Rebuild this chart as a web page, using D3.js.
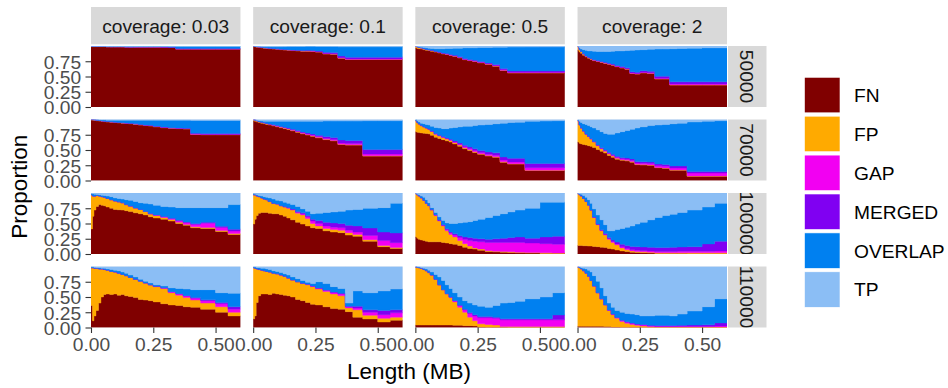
<!DOCTYPE html>
<html>
<head>
<meta charset="utf-8">
<script src="https://cdn.jsdelivr.net/npm/d3@7"></script>
<style>
  html, body { margin: 0; padding: 0; background: #ffffff; }
  svg { display: block; font-family: "Liberation Sans", Arial, Helvetica, sans-serif; }
</style>
</head>
<body>
<svg id="chart" width="948" height="388"></svg>
<script>
// Length bins (MB): edges of each histogram bar
const binEdges = [0, 0.006, 0.012, 0.02, 0.03, 0.04, 0.05, 0.06, 0.075, 0.09, 0.105, 0.12, 0.135,
  0.15, 0.17, 0.19, 0.21, 0.23, 0.25, 0.28, 0.31, 0.34, 0.37, 0.40, 0.44, 0.50, 0.55, 0.60];

const coverages = ["0.03", "0.1", "0.5", "2"];
const minLengths = ["50000", "70000", "100000", "110000"];
const categories = ["FN", "FP", "GAP", "MERGED", "OVERLAP", "TP"];
const categoryColours = ["#800000", "#FFAA00", "#F200F2", "#8000F2", "#0080F0", "#8BBEF5"];
const xTickValues = [0, 0.25, 0.5];
const yTickValues = [0, 0.25, 0.5, 0.75];

// Share of each category per length bin (percent), rows in category order FN, FP, GAP, MERGED, OVERLAP, TP
const m50000_c003 = [
  [99,99,99,99,99,99,99,98.5,98.5,98.5,98.5,98.5,98,98,98,98,98,98,98,98,97.5,95,95,95,95,95,95],
  [0.6,0.5,0.5,0.5,0.4,0.4,0.4,0.4,0.3,0.3,0.3,0.3,0.3,0.2,0.2,0.2,0.2,0.2,0.2,0.1,0.1,0.1,0.1,0.1,0.1,0.1,0.1],
  [0,0,0,0,0,0,0,0,0,0,0,0,0,0,0,0,0,0,0,0,0,0.1,0.1,0.1,0.1,0.1,0.1],
  [0,0,0,0,0,0,0,0,0,0,0,0,0,0,0.2,0.2,0.2,0.2,0.3,0.3,0.3,0.6,0.6,0.6,0.6,0.6,0.6],
  [0,0,0,0,0,0,0,0.3,0.3,0.4,0.4,0.4,0.8,0.8,0.8,0.8,0.8,0.8,0.8,0.9,1.3,3.6,3.6,3.6,3.6,3.6,3.6],
  [0.4,0.5,0.5,0.5,0.6,0.6,0.6,0.8,0.9,0.8,0.8,0.8,0.9,1,0.8,0.8,0.8,0.8,0.7,0.7,0.8,0.7,0.7,0.7,0.7,0.7,0.7]
];
const m50000_c01 = [
  [99,98.5,98,97.5,97,96.5,96,95.5,95,94.5,94,93.5,93,92.5,92,91.5,91.5,91,90,87,86.5,80,78,78,78,78,78],
  [0.8,0.8,0.8,0.8,0.8,0.7,0.7,0.7,0.7,0.6,0.6,0.6,0.6,0.5,0.5,0.5,0.5,0.5,0.4,0.3,0.3,0.2,0.2,0.2,0.2,0.2,0.2],
  [0,0,0,0,0,0,0,0,0,0,0,0.1,0.1,0.2,0.2,0.2,0.2,0.3,0.3,0.4,0.4,0.5,0.5,0.5,0.5,0.5,0.5],
  [0,0,0,0,0,0,0,0.1,0.1,0.2,0.2,0.3,0.3,0.4,0.5,0.6,0.7,0.8,1,2,2,3,3,3,3,3,3],
  [0.1,0.2,0.5,0.8,1,1.5,2,2.5,3,3.5,4,4.5,5,5.5,6,6.5,6.5,7,7.5,9.5,10,15,17,17,17,17,17],
  [0.1,0.5,0.7,0.9,1.2,1.3,1.3,1.2,1.2,1.2,1.2,1.1,1,0.9,0.8,0.7,0.6,0.4,0.8,0.8,0.8,1.3,1.3,1.3,1.3,1.3,1.3]
];
const m50000_c05 = [
  [97,96,95.5,95,94,93,92.5,91.5,90,88.5,87,86,84.5,83,80.5,77.5,76,74.5,72.5,70,67,60,56,56,56,56,56],
  [2.5,2.5,2,1.8,1.5,1.2,1,1,0.8,0.8,0.6,0.6,0.5,0.5,0.5,0.4,0.4,0.4,0.3,0.3,0.3,0.2,0.2,0.2,0.2,0.2,0.2],
  [0,0,0,0,0,0,0.1,0.1,0.2,0.2,0.3,0.3,0.3,0.3,0.4,0.4,0.4,0.5,0.5,0.5,0.6,0.8,0.8,0.8,0.8,0.8,0.8],
  [0,0,0,0,0,0.1,0.2,0.3,0.4,0.5,0.6,0.7,0.8,0.9,1,1.1,1.2,1.3,1.4,1.5,1.6,2,2.2,2.2,2.2,2.2,2.2],
  [0,0.5,1,1.2,2,2.7,2.7,3.1,4.1,5.5,7,8.4,9.9,11.8,14.1,17.6,19,20.3,22.8,25.2,28.5,35,39,39,39.2,39.3,39.3],
  [0.5,1,1.5,2,2.5,3,3.5,4,4.5,4.5,4.5,4,4,3.5,3.5,3,3,3,2.5,2.5,2,2,1.8,1.8,1.6,1.5,1.5]
];
const m50000_c2 = [
  [93,90,88,85,82,80,78,76,74.5,73,71.5,70,68.5,66,64,62,55,54,56,55,46,46,36,36,36,36,36],
  [6,4,3,2,1.5,1.2,1,0.8,0.7,0.6,0.5,0.5,0.4,0.4,0.4,0.3,0.3,0.3,0.3,0.3,0.3,0.3,0.3,0.3,0.3,0.3,0.3],
  [0,0,0,0,0,0.1,0.1,0.2,0.2,0.3,0.3,0.3,0.4,0.4,0.5,0.5,0.6,0.7,0.8,0.8,1,1,1.5,1.5,1.5,1.5,1.5],
  [0,0,0.1,0.2,0.3,0.4,0.5,0.6,0.7,0.8,0.9,1,1.1,1.2,1.4,1.5,2,2,2.5,2.5,3,3,3.5,3.5,3.5,3.5,3.5],
  [0,3,3.9,6.8,9.2,10.3,12.4,13.9,14.9,16.3,17.8,19.2,21.1,24,25.7,28.2,35.1,36.5,34.4,35.9,44.7,44.7,54.2,54.7,55.2,55.7,55.7],
  [1,3,5,6,7,8,8,8.5,9,9,9,9,8.5,8,8,7.5,7,6.5,6,5.5,5,5,4.5,4,3.5,3,3]
];

const m70000_c003 = [
  [99,99,98.5,98,97.5,97,96.5,96,95.5,95,94.5,94,93.5,93,92,91,90,89.5,88,86.5,85.5,85,84.5,75.5,75,75,75],
  [0.8,0.8,0.8,0.7,0.7,0.6,0.6,0.6,0.6,0.5,0.5,0.5,0.5,0.5,0.5,0.5,0.5,0.4,0.4,0.4,0.4,0.4,0.4,0.3,0.3,0.3,0.3],
  [0,0,0,0,0,0,0,0,0,0,0,0,0,0,0.1,0.1,0.1,0.2,0.2,0.2,0.2,0.2,0.2,0.3,0.3,0.3,0.3],
  [0,0,0,0,0,0,0,0,0.1,0.1,0.1,0.2,0.2,0.2,0.3,0.3,0.3,0.4,0.4,0.5,0.5,0.5,0.5,1.5,1.5,1.5,1.5],
  [0,0,0.2,0.7,1,1.4,1.9,2.2,2.6,3.1,3.6,4,4.5,5,5.8,6.8,7.8,8.2,9.7,11.1,12.1,12.6,13.1,20.9,21.4,21.4,21.4],
  [0.2,0.3,0.5,0.6,0.8,1,1,1.2,1.2,1.3,1.3,1.3,1.3,1.3,1.3,1.3,1.3,1.3,1.3,1.3,1.3,1.3,1.3,1.5,1.5,1.5,1.5]
];
const m70000_c01 = [
  [98,97,96,95,94,93,92,91,89.5,88,86.5,85,83.5,81.5,79,76.5,74.5,72.5,70,67,65,59,58,58,40,40,40],
  [2,2,1.8,1.5,1.4,1.3,1.2,1.1,1,1,1,0.9,0.9,0.9,0.8,0.8,0.8,0.7,0.7,0.6,0.6,0.5,0.5,0.5,0.4,0.4,0.4],
  [0,0,0,0,0,0,0.1,0.2,0.3,0.4,0.5,0.6,0.7,0.8,0.9,1,1,1.2,1.3,1.5,1.5,2,2,2,3,3,3],
  [0,0,0,0,0.1,0.2,0.3,0.4,0.5,0.6,0.7,0.8,0.9,1,1.2,1.4,1.6,1.8,2,3,3.5,5,5,5,7.5,7.5,7.5],
  [0,0,0.7,1.5,2,2.5,3.4,4.3,5.7,7,8.3,9.7,11,12.8,15.1,17.3,19.1,20.8,23,25.4,26.9,31,32,32,47.1,47.1,47.1],
  [0.5,1,1.5,2,2.5,3,3,3,3,3,3,3,3,3,3,3,3,3,3,2.5,2.5,2.5,2.5,2.5,2,2,2]
];
const m70000_c05 = [
  [80,79,78.5,78,77.5,77,76.5,74,71,69,67,65,63,60,56,52,49,46,43,40,38,30,27,27,16.5,16.5,16.5],
  [18,16,14,12,10.5,9,7.5,6.5,5,4,3.5,3,2.5,2,2,1.5,1.5,1.2,1,1,0.8,0.6,0.5,0.5,0.4,0.4,0.4],
  [0,0,0,0,0,0,0.2,0.3,0.4,0.5,0.6,0.8,1,1.2,1.5,1.8,2,2,2,2.2,2.5,3,3,3,4,4,4],
  [0,0,0,0,0,0.2,0.3,0.4,0.5,0.7,0.9,1,1.2,1.5,2,2.5,2.5,3,3,3.5,4,5,6,6,7,7,7],
  [1.5,3,3.5,4,5,5.8,6.5,7.8,10.1,11.8,13,15.2,18.3,22.3,26.5,31.2,34,37.8,42,45.3,47.7,55.4,58.5,59,69.1,69.6,70.1],
  [0.5,2,4,6,7,8,9,11,13,14,15,15,14,13,12,11,11,10,9,8,7,6,5,4.5,3,2.5,2]
];
const m70000_c2 = [
  [63,61,60,59,58,57,56,54,51,48,45,41,38,35,33,32,30,26,25.5,25,21,20,17,17,7,7,7],
  [35,30,26,22,18,15,12,9,6,4,3,2.5,2,1.5,1.2,1,1,0.8,0.6,0.5,0.5,0.4,0.4,0.3,0.3,0.3,0.3],
  [0,0,0,0,0,0.2,0.3,0.5,0.6,0.8,1,1.2,1.3,1.5,1.6,1.8,2,2,2.2,2.4,2.6,3,3,3,5,5,5],
  [0,0,0,0,0.2,0.4,0.5,0.6,0.8,1,1.2,1.4,1.6,1.8,2,2.2,2.4,2.5,2.5,2.5,3,3,3.5,3.5,2.5,2.5,2.5],
  [1,6,9,12,15.8,17.4,19.2,21.9,24.6,26.2,26.8,29.9,33.1,38.2,42.2,45,48.6,54.7,57.2,59.6,63.9,65.6,69.1,70.2,81.2,82.2,83.2],
  [1,3,5,7,8,10,12,14,17,20,23,24,24,22,20,18,16,14,12,10,9,8,7,6,4,3,2]
];

const m100000_c003 = [
  [41,62,72,78,81,80,79,77,75,73,72.5,72,71,69.5,67.5,66,64,61,59,57,54,50,47,43,42,37,32],
  [56,33,23,18,14,14,14,14,14,14,13,12,10,9,8,7,5.5,4.5,4,3,2.5,2,1.5,1.5,1.5,1.5,1.5],
  [0,0,0,0,0,0,0,0,0,0,0,0,0,0,0,0,0.3,0.5,0.8,1,1.5,2.5,3,4,7,5,4],
  [0,0,0,0,0,0,0,0,0,0,0,0,0,0,0,0,0,0.2,0.3,0.5,0.8,1,1,1.5,1.5,2,3],
  [2,3.5,3,1.5,2,2.5,3,4,5,5,5.5,6,8,9.5,10.5,11,13.2,15.8,15.9,16.5,18.2,20.5,23.5,26,24,30.5,40.5],
  [1,1.5,2,2.5,3,3.5,4,5,6,8,9,10,11,12,14,16,17,18,20,22,23,24,24,24,24,24,19]
];
const m100000_c01 = [
  [49,57,63,67,68,68,68,67,66,66,64,62,59,56,52,49,46,43,42,38,36,35,31,29,21,12,9],
  [48,40,32,27,24,22,21,19,17,16,15,15,16,16,15,15,12,7,4,4,4,4,4,3,2.5,2,1.5],
  [0,0,0,0,0,0,0,0,0,0,0.3,0.5,0.8,1,1.5,2,3,4,4,4,4,4,4,4,7,8,8],
  [0,0,0,0,0,0,0,0,0,0,0,0.2,0.4,0.6,1,1.5,2,3,5,6,7,7,8,10,12,14,16],
  [2,1,2,2,3,4,4,6,7,6,7.7,7.3,6.8,7.4,8.5,6.5,7,9,12,16,18,20,25,27,32.5,40,48.5],
  [1,2,3,4,5,6,7,8,10,12,13,15,17,19,22,26,30,34,33,32,31,30,28,27,25,24,17]
];
const m100000_c05 = [
  [28,26,24,23,22,21,20,20,20,20,19,18,17,16,14,11,9,8,6,4,3.5,3,2.5,2,1.5,1,1],
  [71,71,71,69,66,62,59,52,43,34,27,20,15,12,8,6,4,2,2,1.5,1,1,1,1,1,1,0.5],
  [0,0,0,0,0,0,0.3,0.5,0.8,1,1,2,3,3,5,7,9,11,12,13.5,14.5,15,15.5,16,15.5,15,14.5],
  [0,0,0,0,0,0,0.2,0.3,0.5,0.7,1,1.5,1,2,3,4,5,5,5,5,6,7,8,9,8,11,13],
  [0,1,2,3,5,6,4.5,3.2,3.7,5.3,7,9.5,14,17,21,24,26,29,32,36,38,40,42,44,49,57,56],
  [1,2,3,5,7,11,16,24,32,39,45,49,50,50,49,48,47,45,43,40,37,34,31,28,25,15,15]
];
const m100000_c2 = [
  [14,14,14,13.5,13.5,13,13,12.5,12,11,10.5,9,8,6.5,5,4,3,2.5,2,1.5,1,1,1,0.8,0.6,0.5,0.5],
  [85,83,81,77.5,72.5,67,59,47.5,36,27,20.5,15,11,8.5,5,3,2,1.5,1.5,1.5,1,1,1,1.2,1.4,1.5,1.5],
  [0,0,0,0,0,0,0,0.2,0.5,0.8,1,1.2,1.5,1.5,2,2,2,2,2,2,2,2,2,2.5,2.5,2.5,3],
  [0,0,0,0,0,0,0,0.3,0.5,1,1.5,2,2.5,3,4,5,5.5,6,6,6,6.5,6.5,7,7,7.5,12,16],
  [0,1.5,3,5,7,9,11,13.5,15,16.2,14.5,10.8,15,20.5,26,30,33.5,37,40.5,45,49.5,52.5,54,56.5,60,60.5,62],
  [1,1.5,2,4,7,11,17,26,36,44,52,62,62,60,58,56,54,51,48,44,40,37,35,32,28,23,17]
];

const m110000_c003 = [
  [36,11,19,28,40,50,54,55,54,55,53,54,52,51,49,46,45,44,42,39,37,36,34,33,30,25,19],
  [62,87,78,69,56,46,41,39,38,36,36,33,33,31,30,30,28,26,25,25,20,17,15,12,10,9,6],
  [0,0,0,0,0,0,0,0,0,0,0,0,0,0,0,0,0,0,0.5,1,1.5,2,2.5,3,4,5,5],
  [0,0,0,0,0,0,0,0,0,0,0,0,0,0,0,0,0,0,0,0,0.3,0.5,0.7,1,1.5,2,4],
  [1,1,1.5,1,2,1,2,2,3,3,4,4,4,4,4,3,3,3,2.5,3,6.2,8.5,10.8,13,16.5,16,22],
  [1,1,1.5,2,2,3,3,4,5,6,7,9,11,14,17,21,24,27,30,32,35,36,37,38,38,43,44]
];
const m110000_c01 = [
  [14,19,41,52,55,55,55,54,56,55,54,53,52,50,46,44,41,38,37,34,31,30,26,17,14,9,12],
  [84,78,55,43,39,38,37,37,33,33,32,31,29,28,29,28,29,29,26,25,24,22,6,12,6,6,5],
  [0,0,0,0,0,0,0,0,0,0,0,0,0,0,0,0.5,1,1,1.5,2,2.5,3,2,3,5,6,7],
  [0,0,0,0,0,0,0,0,0,0,0,0,0,0,0,0,0,0,0.3,0.5,0.8,1,1,3,4,7,5],
  [1,2,2,3,3,4,4,4,4,4,4,4,5,5,5,4.5,3,4,10.2,10.5,8.7,8,5,25,28,32,34],
  [1,1,2,2,3,3,4,5,7,8,10,12,14,17,20,23,26,28,25,28,33,36,60,40,43,40,37]
];
const m110000_c05 = [
  [4,4,4,4,4,4,4,4,4,4,4,4,4,3.5,3.5,3,3,2.5,1,0.5,0.3,0.3,0.2,0.2,0.2,0.2,0.2],
  [95,94.5,94,93,91,89,86,82,75,66,58,51,45,38.5,29.5,22,14,8.5,5,4.5,3.7,1.2,1.3,1.3,1.3,1.3,1.3],
  [0,0,0,0,0,0,0,0,0,0,0,0.5,1,2,3,4,6,8,10,11,11,11,11,11,11,11,11],
  [0,0,0,0,0,0,0,0,0,0,0,0,0,0,0.5,1,1.5,2,2,2,2,2,2,2,2,2,8],
  [0.5,0.5,1,1,2,3,4,5,8,13,15,14.5,14,13,13.5,14,15.5,16,17,15,19,25.5,26.5,28.5,32.5,35.5,36.5],
  [0.5,1,1,2,3,4,6,9,13,17,23,30,36,43,50,56,60,63,65,67,64,60,59,57,53,50,43]
];
const m110000_c2 = [
  [2,2,2,2,2,2,2,2,2,2,1.5,1.5,1,1,0.5,0.5,0.3,0.3,0.2,0.2,0.1,0.1,0.1,0.1,0.1,0.1,0.1],
  [97,96,94,91,87,82,75,66,55,45,35.5,26.5,20,14,9.5,6.5,4.7,3.2,2.3,1.3,0.9,0.9,0.9,0.9,0.9,0.9,0.9],
  [0,0,0,0,0,0,0,0,0,0,0.3,0.5,1,1.5,2,2,2,1.5,1.5,1,1,1,1,1,1,1,1.5],
  [0,0,0,0,0,0,0,0,0,0,0,0,0,0,0,0.3,0.5,0.8,1,1,1.2,1.2,1.2,1.5,2,2.5,5],
  [0,1,2,4,7,10,14,17,19,18,14.7,11.5,11,11.5,13,13.7,14.5,15.2,14,15.5,16.8,16.8,15.8,18.5,23,29.5,39.5],
  [1,1,2,3,4,6,9,15,24,35,48,60,67,72,75,77,78,79,81,81,80,80,81,78,73,66,53]
];

// Facet lookup: row = minimum length, column = coverage
const panelSeries = {
  "50000":  [m50000_c003, m50000_c01, m50000_c05, m50000_c2],
  "70000":  [m70000_c003, m70000_c01, m70000_c05, m70000_c2],
  "100000": [m100000_c003, m100000_c01, m100000_c05, m100000_c2],
  "110000": [m110000_c003, m110000_c01, m110000_c05, m110000_c2]
};

// ---- layout ----
const svg = d3.select("#chart");
const colBand = d3.scaleBand().domain(coverages).range([91, 727]).paddingInner(0.0783);
const rowBand = d3.scaleBand().domain(minLengths).range([46, 327.5]).paddingInner(0.17);
const pw = colBand.bandwidth();
const ph = rowBand.bandwidth();
const x = d3.scaleLinear().domain([0, 0.6]).range([0, pw]);
const y = d3.scaleLinear().domain([0, 1]).range([ph, 0]);
const colour = d3.scaleOrdinal().domain(categories).range(categoryColours);

const SMALL_FONT = 19.2, TITLE_FONT = 22.5;
const tickColour = "#333333", tickTextColour = "#4d4d4d";

const stack = d3.stack().keys(categories).offset(d3.stackOffsetExpand);
const area = d3.area()
  .curve(d3.curveStepAfter)
  .x(d => x(d.edge))
  .y0(d => y(d.lo))
  .y1(d => y(d.hi));

const defs = svg.append("defs");

minLengths.forEach((ml, ri) => {
  coverages.forEach((cov, ci) => {
    const series = panelSeries[ml][ci];
    const table = d3.range(binEdges.length - 1).map(i => {
      const row = { x0: binEdges[i], x1: binEdges[i + 1] };
      categories.forEach((c, k) => { row[c] = series[k][i]; });
      return row;
    });
    const layers = stack(table);
    const clipId = `clip-${ri}-${ci}`;
    defs.append("clipPath").attr("id", clipId)
      .append("rect").attr("width", pw).attr("height", ph);

    const g = svg.append("g")
      .attr("transform", `translate(${colBand(cov)},${rowBand(ml)})`);
    g.append("rect").attr("width", pw).attr("height", ph).attr("fill", "#ebebeb");
    const plot = g.append("g").attr("clip-path", `url(#${clipId})`);

    layers.forEach(layer => {
      const pts = layer.map(d => ({ edge: d.data.x0, lo: d[0], hi: d[1] }));
      const last = layer[layer.length - 1];
      pts.push({ edge: last.data.x1, lo: last[0], hi: last[1] });
      plot.append("path")
        .attr("d", area(pts))
        .attr("fill", colour(layer.key))
        .attr("stroke", colour(layer.key))
        .attr("stroke-width", 0.4);
    });

    // y axis on the first column
    if (ci === 0) {
      const ya = g.append("g").call(
        d3.axisLeft(y).tickValues(yTickValues).tickFormat(d3.format(".2f"))
          .tickSize(5.5).tickPadding(4.4));
      ya.select(".domain").remove();
      ya.selectAll("line").attr("stroke", tickColour).attr("stroke-width", 1.1);
      ya.selectAll("text").attr("fill", tickTextColour).attr("font-size", SMALL_FONT)
        .attr("font-family", "Liberation Sans, Arial, sans-serif").attr("dy", "0.36em");
    }
    // x axis on the bottom row
    if (ri === minLengths.length - 1) {
      const xa = g.append("g").attr("transform", `translate(0,${ph})`).call(
        d3.axisBottom(x).tickValues(xTickValues).tickFormat(d3.format(".2f"))
          .tickSize(5.5).tickPadding(4));
      xa.select(".domain").remove();
      xa.selectAll("line").attr("stroke", tickColour).attr("stroke-width", 1.1);
      xa.selectAll("text").attr("fill", tickTextColour).attr("font-size", SMALL_FONT)
        .attr("font-family", "Liberation Sans, Arial, sans-serif").attr("dy", "0.72em");
    }
  });
});

// ---- facet strips ----
const stripTop = 7, stripH = 37.3;
coverages.forEach(cov => {
  svg.append("rect").attr("x", colBand(cov)).attr("y", stripTop)
    .attr("width", pw).attr("height", stripH).attr("fill", "#d9d9d9");
  svg.append("text").attr("x", colBand(cov) + pw / 2).attr("y", stripTop + stripH / 2)
    .attr("dy", "0.36em").attr("text-anchor", "middle")
    .attr("font-size", SMALL_FONT).attr("fill", "#1a1a1a")
    .text(`coverage: ${cov}`);
});

const stripX = 728, stripW = 38.5;
minLengths.forEach((ml, ri) => {
  const top = rowBand(ml);
  const cid = `strip-clip-${ri}`;
  defs.append("clipPath").attr("id", cid)
    .append("rect").attr("x", stripX).attr("y", top).attr("width", stripW).attr("height", ph);
  svg.append("rect").attr("x", stripX).attr("y", top)
    .attr("width", stripW).attr("height", ph).attr("fill", "#d9d9d9");
  const cx = stripX + stripW / 2, cy = top + ph / 2;
  svg.append("g").attr("clip-path", `url(#${cid})`)
    .append("text")
    .attr("transform", `translate(${cx},${cy}) rotate(90)`)
    .attr("dy", "0.36em").attr("text-anchor", "middle")
    .attr("font-size", SMALL_FONT).attr("fill", "#1a1a1a")
    .text(ml);
});

// ---- axis titles ----
svg.append("text")
  .attr("x", (91 + 727) / 2).attr("y", 379)
  .attr("text-anchor", "middle").attr("font-size", TITLE_FONT).attr("fill", "#000")
  .text("Length (MB)");
svg.append("text")
  .attr("transform", `translate(27,${(46 + 327.5) / 2}) rotate(-90)`)
  .attr("text-anchor", "middle").attr("font-size", TITLE_FONT).attr("fill", "#000")
  .text("Proportion");

// ---- legend ----
const legend = svg.append("g").attr("transform", "translate(804.5,77.3)");
categories.forEach((c, i) => {
  const row = legend.append("g").attr("transform", `translate(0,${i * 38.9})`);
  row.append("rect").attr("width", 35.5).attr("height", 35.5).attr("fill", colour(c))
    .attr("stroke", "#ffffff").attr("stroke-width", 0.6);
  row.append("text").attr("x", 49.5).attr("y", 17.75).attr("dy", "0.36em")
    .attr("font-size", SMALL_FONT).attr("fill", "#000").text(c);
});
</script>
</body>
</html>
